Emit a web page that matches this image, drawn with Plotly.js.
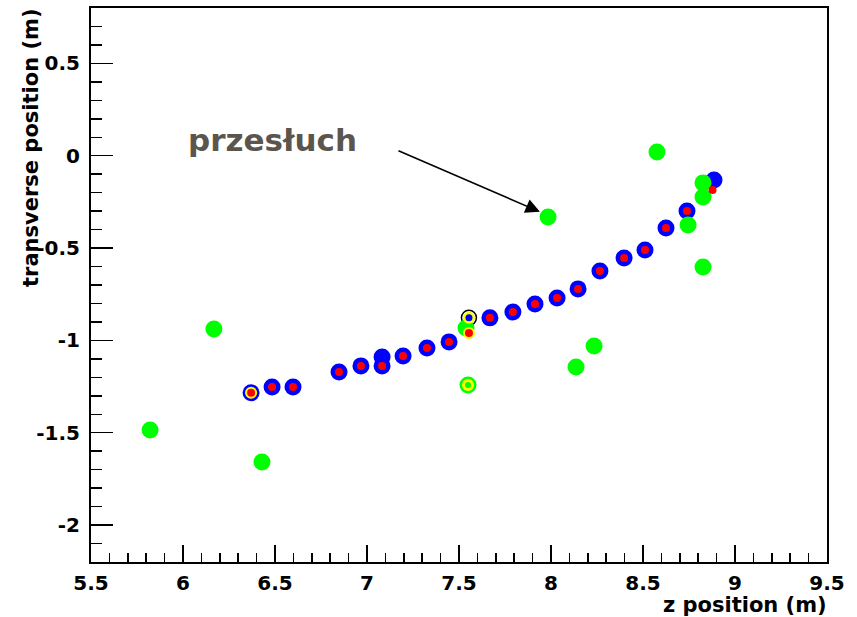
<!DOCTYPE html>
<html>
<head>
<meta charset="utf-8">
<script src="https://cdn.plot.ly/plotly-3.0.1.min.js"></script>
<style>html,body{margin:0;padding:0;background:#fff;}#chart{width:857px;height:617px;}</style>
</head>
<body>
<div id="chart"></div>
<script>
// Track hits (blue outer rings)
const trackZ = [6.370, 6.484, 6.598, 6.848, 6.967, 7.082, 7.082, 7.196, 7.326, 7.446, 7.668, 7.793, 7.913, 8.033, 8.147, 8.266, 8.397, 8.511, 8.625, 8.739, 8.886];
const trackT = [-1.284, -1.252, -1.252, -1.171, -1.138, -1.090, -1.138, -1.084, -1.041, -1.008, -0.878, -0.846, -0.803, -0.770, -0.721, -0.624, -0.554, -0.510, -0.391, -0.299, -0.131];
// Red centres
const redZ = [6.370, 6.484, 6.598, 6.848, 6.967, 7.082, 7.196, 7.326, 7.446, 7.554, 7.668, 7.793, 7.913, 8.033, 8.147, 8.266, 8.397, 8.511, 8.625, 8.739, 8.878];
const redT = [-1.284, -1.252, -1.252, -1.171, -1.138, -1.138, -1.084, -1.041, -1.008, -0.960, -0.878, -0.846, -0.803, -0.770, -0.721, -0.624, -0.554, -0.510, -0.391, -0.299, -0.185];
// Noise hits (green)
const noiseZ = [5.821, 6.168, 6.429, 7.984, 8.576, 8.136, 8.234, 7.549, 8.745, 8.826, 8.826, 8.826, 7.538];
const noiseT = [-1.485, -0.938, -1.658, -0.332, 0.020, -1.144, -1.030, -1.241, -0.375, -0.147, -0.223, -0.602, -0.933];
// Yellow rings
const yellowZ = [6.370, 7.554, 7.554, 7.549];
const yellowT = [-1.284, -0.878, -0.960, -1.241];
// Small inner dots
const innerBlueZ = [7.554];
const innerBlueT = [-0.878];
const innerGreenZ = [7.549];
const innerGreenT = [-1.241];
// Black ring
const ringZ = [7.554];
const ringT = [-0.878];

const xTicks = [5.5, 6, 6.5, 7, 7.5, 8, 8.5, 9, 9.5];
const xTickText = ['5.5', '6', '6.5', '7', '7.5', '8', '8.5', '9', '9.5'];
const yTicks = [-2, -1.5, -1, -0.5, 0, 0.5];
const yTickText = ['-2', '-1.5', '-1', '-0.5', '0', '0.5'];

const FONT = 'DejaVu Sans, sans-serif';

const traces = [
  {x: trackZ, y: trackT, mode: 'markers', type: 'scatter', marker: {color: '#0000ff', size: 17, line: {width: 0}}},
  {x: ringZ, y: ringT, mode: 'markers', type: 'scatter', marker: {color: '#000000', symbol: 'circle-open', size: 15, line: {width: 1.5, color: '#000000'}}},
  {x: noiseZ, y: noiseT, mode: 'markers', type: 'scatter', marker: {color: '#00ff00', size: 17, line: {width: 0}}},
  {x: yellowZ, y: yellowT, mode: 'markers', type: 'scatter', marker: {color: '#ffff00', size: 12, line: {width: 0}}},
  {x: innerBlueZ, y: innerBlueT, mode: 'markers', type: 'scatter', marker: {color: '#0000ff', size: 7, line: {width: 0}}},
  {x: innerGreenZ, y: innerGreenT, mode: 'markers', type: 'scatter', marker: {color: '#00ff00', size: 6, line: {width: 0}}},
  {x: redZ, y: redT, mode: 'markers', type: 'scatter', marker: {color: '#ff0000', size: 8, line: {width: 0}}}
];

const plotW = 857 - 91 - 30, plotH = 617 - 8 - 55;

const layout = {
  width: 857, height: 617,
  margin: {l: 91, r: 30, t: 8, b: 55, pad: 0},
  paper_bgcolor: '#ffffff', plot_bgcolor: '#ffffff',
  showlegend: false,
  font: {family: FONT, color: '#000000'},
  xaxis: {
    range: [5.5, 9.5], showgrid: false, zeroline: false,
    showline: true, mirror: true, linecolor: '#000000', linewidth: 2,
    ticks: 'inside', ticklen: 17, tickwidth: 1.5, tickcolor: '#000000',
    tickvals: xTicks, ticktext: xTickText,
    tickfont: {family: FONT, size: 20, color: '#000000', weight: 'bold'},
    ticklabelstandoff: 2,
    minor: {dtick: 0.1, tick0: 5.5, ticks: 'inside', ticklen: 9, tickwidth: 1.5, tickcolor: '#000000', showgrid: false}
  },
  yaxis: {
    range: [-2.2, 0.8], showgrid: false, zeroline: false,
    showline: true, mirror: true, linecolor: '#000000', linewidth: 2,
    ticks: 'inside', ticklen: 22, tickwidth: 1.5, tickcolor: '#000000',
    tickvals: yTicks, ticktext: yTickText,
    tickfont: {family: FONT, size: 20, color: '#000000', weight: 'bold'},
    ticklabelstandoff: 5,
    minor: {dtick: 0.1, tick0: 0, ticks: 'inside', ticklen: 11, tickwidth: 1.5, tickcolor: '#000000', showgrid: false}
  },
  annotations: [
    {text: 'przesłuch', x: 6.489, y: 0.085, xref: 'x', yref: 'y', showarrow: false,
     font: {family: FONT, size: 31, color: '#5c554e', weight: 'bold'}},
    {text: '', x: 7.940, y: -0.304, ax: 7.163, ay: 0.031, xref: 'x', yref: 'y', axref: 'x', ayref: 'y',
     showarrow: true, arrowhead: 2, arrowsize: 1.8, arrowwidth: 1.6, arrowcolor: '#000000', standoff: 0},
    {text: 'transverse position (m)', textangle: -90,
     x: (31 - 91) / plotW, y: 1 - (148 - 8) / plotH, xref: 'paper', yref: 'paper',
     xanchor: 'center', yanchor: 'middle',
     showarrow: false, font: {family: FONT, size: 21, color: '#000000', weight: 'bold'}},
    {text: 'z position (m)', x: 1, y: 0, xref: 'paper', yref: 'paper', xanchor: 'right', yanchor: 'middle',
     yshift: -43, xshift: 2, showarrow: false, font: {family: FONT, size: 21, color: '#000000', weight: 'bold'}}
  ]
};

Plotly.newPlot('chart', traces, layout, {staticPlot: true, displayModeBar: false});
</script>
</body>
</html>
